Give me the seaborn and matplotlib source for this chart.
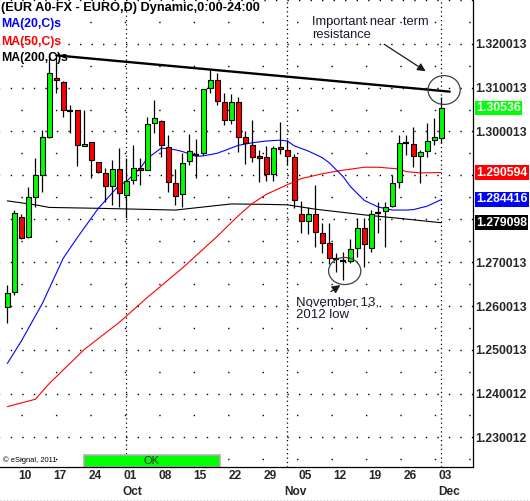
import numpy as np
import pandas as pd
import matplotlib
matplotlib.use("Agg")
import matplotlib.pyplot as plt
import matplotlib.transforms as mtransforms
from matplotlib.patches import Ellipse, Rectangle
import seaborn as sns

sns.set_style("white")
plt.rcParams["font.family"] = ["Liberation Sans", "DejaVu Sans"]

# ---------------- data ----------------
dates = pd.bdate_range("2012-09-06", "2012-12-03")

opens = [1.2599, 1.2632, 1.2805, 1.2758, 1.2849, 1.2900, 1.2988, 1.3122, 1.3114, 1.3047,
         1.3049, 1.2967, 1.2975, 1.2929, 1.2904, 1.2875, 1.2914, 1.2854, 1.2889, 1.2917,
         1.2912, 1.3019, 1.3024, 1.2965, 1.2881, 1.2856, 1.2932, 1.2946, 1.2950, 1.3099,
         1.3118, 1.3068, 1.3025, 1.3067, 1.2987, 1.2970, 1.2943, 1.2941, 1.2902, 1.2964,
         1.2957, 1.2942, 1.2811, 1.2796, 1.2811, 1.2768, 1.2744, 1.2708, 1.2703, 1.2703,
         1.2733, 1.2778, 1.2733, 1.2814, 1.2818, 1.2829, 1.2885, 1.2973, 1.2971, 1.2944,
         1.2955, 1.2980, 1.2984]
highs = [1.2649, 1.2819, 1.2811, 1.2872, 1.2938, 1.3003, 1.3173, 1.3175, 1.3116, 1.3060,
         1.3050, 1.3049, 1.2976, 1.2931, 1.2916, 1.2935, 1.2961, 1.2938, 1.2969, 1.2938,
         1.3034, 1.3073, 1.3026, 1.2992, 1.2913, 1.2951, 1.2994, 1.2982, 1.3097, 1.3141,
         1.3134, 1.3087, 1.3085, 1.3078, 1.3001, 1.3026, 1.2957, 1.2967, 1.2967, 1.3022,
         1.2980, 1.2948, 1.2841, 1.2826, 1.2877, 1.2790, 1.2790, 1.2721, 1.2725, 1.2753,
         1.2801, 1.2801, 1.2820, 1.2839, 1.2839, 1.2900, 1.2992, 1.2992, 1.3009, 1.2957,
         1.3019, 1.3030, 1.3079]
lows = [1.2561, 1.2626, 1.2754, 1.2757, 1.2828, 1.2862, 1.2984, 1.3087, 1.3032, 1.2997,
        1.2921, 1.2966, 1.2893, 1.2904, 1.2839, 1.2832, 1.2828, 1.2805, 1.2879, 1.2877,
        1.2911, 1.2997, 1.2941, 1.2862, 1.2832, 1.2828, 1.2923, 1.2893, 1.2947, 1.3087,
        1.3060, 1.3015, 1.3017, 1.2954, 1.2925, 1.2931, 1.2885, 1.2887, 1.2887, 1.2948,
        1.2923, 1.2824, 1.2768, 1.2765, 1.2736, 1.2721, 1.2697, 1.2679, 1.2660, 1.2698,
        1.2713, 1.2690, 1.2725, 1.2767, 1.2736, 1.2828, 1.2870, 1.2946, 1.2918, 1.2883,
        1.2941, 1.2970, 1.2973]
closes = [1.2630, 1.2814, 1.2757, 1.2849, 1.2900, 1.2987, 1.3133, 1.3117, 1.3049, 1.3047,
          1.2968, 1.2972, 1.2935, 1.2906, 1.2875, 1.2913, 1.2858, 1.2886, 1.2916, 1.2912,
          1.3017, 1.3030, 1.2969, 1.2884, 1.2853, 1.2928, 1.2955, 1.2946, 1.3096, 1.3118,
          1.3070, 1.3025, 1.3067, 1.2987, 1.2973, 1.2942, 1.2938, 1.2902, 1.2961, 1.2959,
          1.2944, 1.2843, 1.2796, 1.2811, 1.2770, 1.2745, 1.2710, 1.2708, 1.2703, 1.2730,
          1.2778, 1.2742, 1.2810, 1.2814, 1.2828, 1.2881, 1.2973, 1.2973, 1.2944, 1.2952,
          1.2978, 1.2987, 1.30536]

ma20_idx = [0, 2, 5, 8, 10, 13, 16, 17, 19, 20, 22, 24, 25, 27, 28, 30, 33, 35, 37, 39, 40,
            41, 43, 45, 46, 48, 49, 51, 53, 55, 57, 58, 60, 62]
ma20_val = [1.2469, 1.2520, 1.2606, 1.2710, 1.2757, 1.2824, 1.2877, 1.2885, 1.2916, 1.2938,
            1.2962, 1.2958, 1.2954, 1.2943, 1.2944, 1.2950, 1.2968, 1.2974, 1.2978, 1.2980,
            1.2978, 1.2967, 1.2955, 1.2940, 1.2928, 1.2896, 1.2874, 1.2842, 1.2827, 1.2820,
            1.2820, 1.2821, 1.2829, 1.2844]
ma50_idx = [0, 4, 6, 11, 16, 20, 25, 30, 33, 35, 37, 40, 42, 45, 47, 51, 53, 56, 57, 59, 62]
ma50_val = [1.2370, 1.2387, 1.2423, 1.2501, 1.2563, 1.2620, 1.2687, 1.2760, 1.2807, 1.2835,
            1.2856, 1.2878, 1.2892, 1.2903, 1.2909, 1.2918, 1.2918, 1.2914, 1.2908, 1.2905,
            1.2906]
ma200_idx = [0, 4, 6, 13, 24, 32, 37, 40, 44, 51, 56, 62]
ma200_val = [1.2841, 1.2832, 1.2826, 1.2824, 1.2820, 1.2834, 1.2833, 1.2832, 1.2822, 1.2809,
             1.2801, 1.2791]

last_values = {"1.30536": 1.30536, "1.290594": 1.290594, "1.284416": 1.284416,
               "1.279098": 1.279098}
ytick_vals = [1.230012, 1.240012, 1.250013, 1.260013, 1.270013, 1.300013, 1.310013, 1.320013]
xtick_dates = ["2012-09-10", "2012-09-17", "2012-09-24", "2012-10-01", "2012-10-08",
               "2012-10-15", "2012-10-22", "2012-10-29", "2012-11-05", "2012-11-12",
               "2012-11-19", "2012-11-26", "2012-12-03"]
month_starts = ["2012-10-01", "2012-11-01", "2012-12-03"]
month_names = ["Oct", "Nov", "Dec"]

trend_x = [7, 63.2]
trend_y = [1.3174, 1.3091]

# ---------------- figure ----------------
W, H = 530, 501
fig = plt.figure(figsize=(W / 100, H / 100), dpi=100)
ax_left, ax_right, ax_top, ax_bot = 0, 473, 0, 467
ax = fig.add_axes([ax_left / W, (H - ax_bot) / H, (ax_right - ax_left) / W,
                   (ax_bot - ax_top) / H])
ax.set_xlim(-1.043, 66.53)
ax.set_ylim(1.22320, 1.33007)

# dotted grid
for k in range(int(round((1.33 - 1.225) / 0.005)) + 1):
    yv = 1.225 + 0.005 * k
    major = (k % 2 == 1)
    if major:
        ax.axhline(yv, color="black", lw=1.0, ls=(0.9, (1, 7.3)), zorder=0)
    else:
        ax.axhline(yv, color="black", lw=1.0, ls=(9.7, (1, 23.8)), zorder=0)

x = np.arange(len(opens))
month_idx = dates.get_indexer(pd.to_datetime(month_starts))
for mi in month_idx:
    ax.axvline(mi, color="black", lw=0.9, ls=(0, (1, 2.5)), zorder=0)

# MAs via seaborn
sns.lineplot(x=ma200_idx, y=ma200_val, ax=ax, color="black", lw=0.8, zorder=2)
sns.lineplot(x=ma50_idx, y=ma50_val, ax=ax, color="#ff0000", lw=0.8, zorder=2)
sns.lineplot(x=ma20_idx, y=ma20_val, ax=ax, color="#0000ff", lw=0.8, zorder=2)

# candles
o = np.array(opens); c = np.array(closes); h = np.array(highs); l = np.array(lows)
ax.vlines(x, l, h, color="black", lw=0.9, zorder=3)
up = c > o
dn = c < o
dj = c == o
ax.bar(x[up], (c - o)[up], bottom=o[up], width=0.72, color="#00ff00",
       edgecolor="black", lw=0.8, zorder=4)
ax.bar(x[dn], (o - c)[dn], bottom=c[dn], width=0.72, color="#ff0000",
       edgecolor="black", lw=0.8, zorder=4)
ax.hlines(o[dj], x[dj] - 0.45, x[dj] + 0.45, color="black", lw=1.6, zorder=4)

# resistance trend line
sns.lineplot(x=trend_x, y=trend_y, ax=ax, color="black", lw=1.7, zorder=5)

# annotations
ax.add_patch(Ellipse((62.4, 1.30947), 4.6, 0.0066, fill=False, ec="#404040", lw=0.9, zorder=6))
ax.add_patch(Ellipse((48.2, 1.26805), 4.6, 0.0062, fill=False, ec="#404040", lw=0.9, zorder=6))
ax.annotate("", xy=(60.1, 1.31343), xytext=(53.5, 1.32030),
            arrowprops=dict(arrowstyle="-|>", color="#1a1a1a", lw=0.9, mutation_scale=12))
ax.annotate("", xy=(47.9, 1.2652), xytext=(45.9, 1.26295),
            arrowprops=dict(arrowstyle="-|>", color="#1a1a1a", lw=0.9, mutation_scale=12))
ax.text(43.5, 1.32355, "Important near  term\nresistance", fontsize=9.3, color="#1a1a2a",
        ha="left", va="center", linespacing=1.1, zorder=7)
ax.text(41.3, 1.2594, "November 13,\n2012 low", fontsize=9.5, color="#1a1a2a",
        ha="left", va="center", linespacing=1.1, zorder=7)

# spines
for s in ["top", "left"]:
    ax.spines[s].set_visible(False)
for s in ["right", "bottom"]:
    ax.spines[s].set_visible(True)
    ax.spines[s].set_color("black")
    ax.spines[s].set_linewidth(0.9)
    ax.spines[s].set_zorder(10)

# y axis on the right
ax.yaxis.tick_right()
ax.set_yticks(ytick_vals)
ax.set_yticklabels([f"{v:.6f}" for v in ytick_vals], fontsize=8.8, fontweight="bold")
ax.tick_params(axis="y", length=0, pad=1.5)
ax.set_ylabel("")

# x axis
xt = dates.get_indexer(pd.to_datetime(xtick_dates))
ax.set_xticks(xt + 0.5)
ax.set_xticklabels([pd.Timestamp(d).strftime("%d") for d in xtick_dates], fontsize=8.6,
                   fontweight="bold")
ax.tick_params(axis="x", length=0, pad=2.5)
ax.set_xlabel("")
for mi, name in zip(month_idx, month_names):
    ax.annotate(name, xy=(mi - 0.5, 0), xycoords=("data", "axes fraction"),
                xytext=(0, -25), textcoords="offset pixels", ha="left", va="center",
                fontsize=8.6, fontweight="bold", annotation_clip=False)

# last-value boxes
blend = mtransforms.blended_transform_factory(ax.transAxes, ax.transData)
box_colors = {"1.30536": "#00ff00", "1.290594": "#ff0000", "1.284416": "#0000ff",
              "1.279098": "#000000"}
for lab, val in last_values.items():
    ax.text(1 + 3 / 473, val, lab, transform=blend, ha="left", va="center",
            fontsize=8.8, fontweight="bold", color="white", clip_on=False, zorder=12,
            bbox=dict(boxstyle="square,pad=0.12", fc=box_colors[lab], ec="none"))

# header texts
fig.text(1 / W, 1 - 8.5 / H, "(EUR A0-FX - EURO,D) Dynamic,0:00-24:00", fontsize=9.2,
         fontweight="bold", color="black", va="center", ha="left")
fig.text(1 / W, 1 - 24.5 / H, "MA(20,C)s", fontsize=8.8, fontweight="bold", color="#0000ff",
         va="center", ha="left")
fig.text(1 / W, 1 - 41.5 / H, "MA(50,C)s", fontsize=8.8, fontweight="bold", color="#ff0000",
         va="center", ha="left")
fig.text(1 / W, 1 - 58.5 / H, "MA(200,C)s", fontsize=8.8, fontweight="bold", color="black",
         va="center", ha="left")

# footer items
ax.add_patch(Rectangle((84 / 473, 0), 136 / 473, 12 / 467, transform=ax.transAxes,
                       fc="#00ff00", ec="#b0b0b0", lw=1.2, zorder=8, clip_on=False))
ax.text(152 / 473, 1 / 467, "OK", transform=ax.transAxes, ha="center", va="bottom",
        fontsize=8, color="#303030", zorder=9)
ax.text(3 / 473, 7 / 467, "\u00a9 eSignal, 2011", transform=ax.transAxes, ha="left",
        va="center", fontsize=5.4, color="black", zorder=9)
fig.add_artist(plt.Line2D([0, 1], [1.5 / H, 1.5 / H], transform=fig.transFigure,
                          color="#c8c8c8", lw=0.8, ls=(0, (1, 2))))

fig.savefig("out.png", dpi=100)
